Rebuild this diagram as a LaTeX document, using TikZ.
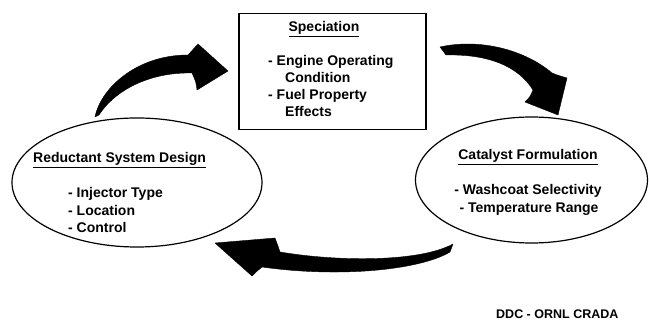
\documentclass[tikz,border=0pt]{standalone}
\usepackage{fontspec}
\setmainfont{Liberation Sans}
\usetikzlibrary{shapes.geometric}
\begin{document}
\begin{tikzpicture}[x=1pt,y=-1pt,
  txt/.style={inner sep=0pt,font=\fontsize{14}{17}\selectfont\bfseries},
  smalltxt/.style={inner sep=0pt,font=\fontsize{12.5}{15}\selectfont\bfseries},
  oval/.style={draw=black,line width=1.2pt,ellipse,inner sep=0pt},
  bigarrow/.style={fill=black,draw=black,line width=0.4pt,line join=round}]
\useasboundingbox (0,0) rectangle (649,323);
% frames
\node[draw=black,line width=1.4pt,minimum width=187pt,minimum height=116pt,inner sep=0pt] (spec) at (332.5,71.5) {};
\node[oval,minimum width=250pt,minimum height=129pt] (red) at (137,182.5) {};
\node[oval,minimum width=232pt,minimum height=126pt] (cat) at (531.5,180) {};
% speciation texts
\node[txt,anchor=base] (spect) at (324,32) {\underline{Speciation}};
\node[txt,anchor=base west] (eng) at (268,66) {- Engine Operating};
\node[txt,anchor=base west] (cond) at (285,83) {Condition};
\node[txt,anchor=base west] (fuel) at (268,100) {- Fuel Property};
\node[txt,anchor=base west] (eff) at (285,117) {Effects};
% reductant texts
\node[txt,anchor=base west] (redt) at (33,163) {\underline{Reductant System Design}};
\node[txt,anchor=base west] (inj) at (68,198) {- Injector Type};
\node[txt,anchor=base west] (loc) at (68,215.5) {- Location};
\node[txt,anchor=base west] (ctl) at (68,233) {- Control};
% catalyst texts
\node[txt,anchor=base] (catt) at (528,160) {\underline{Catalyst Formulation}};
\node[txt,anchor=base] (wash) at (528,195) {- Washcoat Selectivity};
\node[txt,anchor=base] (temp) at (529,213) {- Temperature Range};
% footer
\node[smalltxt,anchor=base west] (ddc) at (496,319) {DDC - ORNL CRADA};
% arrow: reductant -> speciation
\fill[bigarrow] (95,117) .. controls (100,90) and (135,55) .. (188,55)
  -- (198,44) -- (228,71) -- (197,90)
  .. controls (196,82) .. (192,73)
  .. controls (150,72) and (115,90) .. (99,115) -- cycle;
% arrow: speciation -> catalyst
\fill[bigarrow] (440,47) .. controls (480,38) and (525,50) .. (552,73)
  .. controls (557,75) .. (567,78)
  -- (558,115) -- (525,102)
  .. controls (530,97) .. (533,90)
  .. controls (518,66) and (488,54) .. (446,55) -- cycle;
% arrow: catalyst -> reductant
\fill[bigarrow] (453,244) .. controls (420,262) and (340,262) .. (280,252)
  .. controls (278,246) .. (275,238)
  -- (215,243) -- (252,276)
  .. controls (256,272) .. (262,267)
  .. controls (340,278) and (420,270) .. (450,252) -- cycle;
\end{tikzpicture}
\end{document}
